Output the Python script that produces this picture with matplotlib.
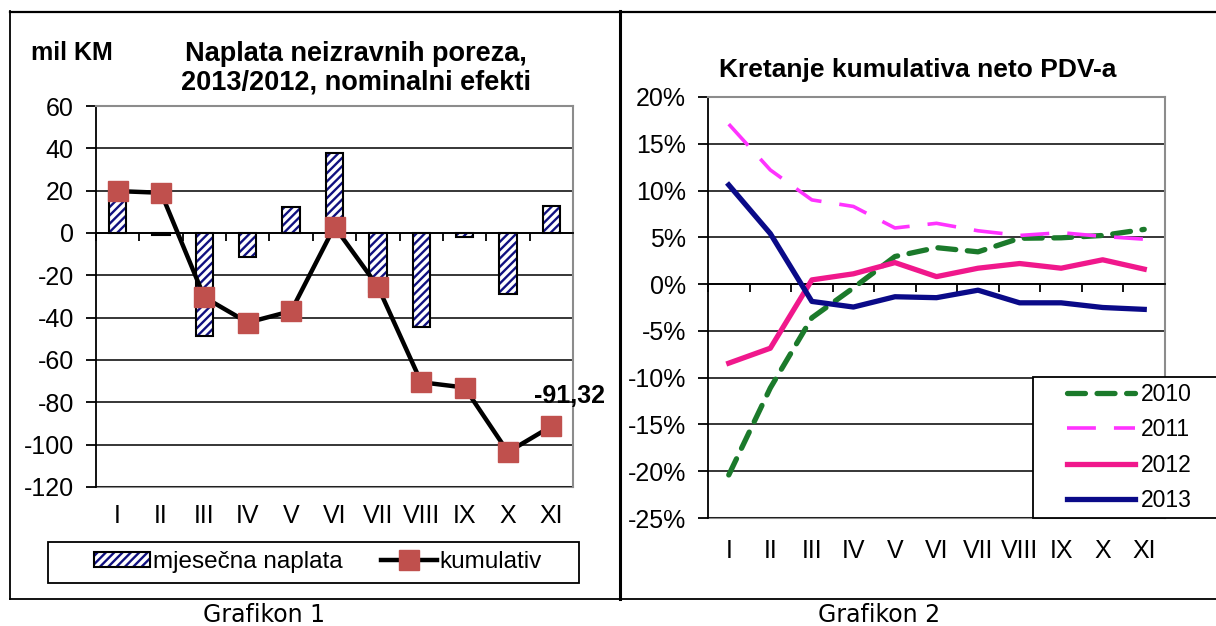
import numpy as np
import matplotlib
matplotlib.use('Agg')
import matplotlib.pyplot as plt
from matplotlib.patches import Patch, Rectangle
from matplotlib.lines import Line2D

plt.rcParams['font.family'] = ['Liberation Sans', 'DejaVu Sans']
plt.rcParams['axes.unicode_minus'] = False
plt.rcParams['hatch.linewidth'] = 1.7

# --- data ---
months = ['I', 'II', 'III', 'IV', 'V', 'VI', 'VII', 'VIII', 'IX', 'X', 'XI']

# Grafikon 1: mil KM
monthly = [20, -0.8, -48.5, -11.5, 12.2, 38, -28, -44.6, -2, -29, 12.7]
cumulative = [19.8, 19.0, -30.4, -42.3, -36.9, 3, -25.3, -70.5, -73, -103.5, -91.32]

# Grafikon 2: kumulativ neto PDV-a, %
vat_2010 = [-20.4, -11.1, -3.6, -0.4, 2.95, 3.9, 3.45, 4.9, 4.95, 5.2, 5.85]
vat_2011 = [17.1, 12.2, 9.0, 8.3, 6.0, 6.5, 5.7, 5.2, 5.5, 5.1, 4.8]
vat_2012 = [-8.45, -6.85, 0.45, 1.1, 2.3, 0.8, 1.7, 2.2, 1.7, 2.6, 1.6]
vat_2013 = [10.6, 5.4, -1.85, -2.45, -1.35, -1.45, -0.65, -2.0, -2.0, -2.5, -2.7]

W, H = 1216, 626
fig = plt.figure(figsize=(W / 100, H / 100), dpi=100)


def fx(px):
    return px / W


def fy(py):
    return 1 - py / H


def frame_axes(ax, xlabel_pad):
    # plot area border gray, left axis black, category axis at zero
    for s in ['top', 'right']:
        ax.spines[s].set_color('#8c8c8c')
        ax.spines[s].set_linewidth(1.5)
    ax.spines['left'].set_color('black')
    ax.spines['left'].set_linewidth(1.3)
    ax.spines['bottom'].set_position(('data', 0))
    ax.spines['bottom'].set_color('black')
    ax.spines['bottom'].set_linewidth(1.3)
    ax.set_xlim(-0.5, len(months) - 0.5)
    ax.set_xticks(np.arange(-0.5, len(months)), [''] * (len(months) + 1))
    ax.tick_params(axis='x', direction='out', length=6, width=1.3)
    ax.tick_params(axis='y', direction='out', length=7, width=1.3, pad=9,
                   labelsize=18)
    sec = ax.secondary_xaxis('bottom')
    sec.set_xticks(np.arange(len(months)), months)
    sec.tick_params(length=0, pad=xlabel_pad, labelsize=18)
    sec.spines['bottom'].set_color('#8c8c8c')
    sec.spines['bottom'].set_linewidth(1.5)
    ax.yaxis.grid(True, color='black', linewidth=1.1)
    ax.set_axisbelow(True)


def legend_box(x0, y0, x1, y1):
    # white box in figure pixels, drawn under a frameless figure legend
    fig.add_artist(Rectangle((fx(x0), fy(y1)), fx(x1) - fx(x0),
                             fy(y0) - fy(y1), transform=fig.transFigure,
                             facecolor='white', edgecolor='black',
                             linewidth=1.3, zorder=3))


# --- Grafikon 1 ---
ax1 = fig.add_axes([fx(96), fy(487), fx(573) - fx(96), fy(106) - fy(487)])
x = np.arange(len(months))
ax1.bar(x, monthly, width=0.4, color='white', edgecolor='#101080',
        hatch='////', linewidth=0, zorder=2)
ax1.bar(x, monthly, width=0.4, fill=False, edgecolor='black',
        linewidth=1.5, zorder=2)
ax1.plot(x, cumulative, color='black', linewidth=3.2, marker='s',
         markersize=15, markerfacecolor='#c0504d', markeredgecolor='#c0504d',
         zorder=3)
ax1.set_ylim(-120, 60)
ax1.set_yticks(np.arange(-120, 61, 20))
frame_axes(ax1, 12)
ax1.annotate(f"{cumulative[-1]:.2f}".replace('.', ','),
             xy=(x[-1], cumulative[-1]), xytext=(13, 22),
             textcoords='offset points', ha='center', va='center',
             fontsize=18, fontweight='bold', annotation_clip=False)

fig.text(fx(72), fy(53), 'mil KM', ha='center', va='center',
         fontsize=18, fontweight='bold')
fig.text(fx(356), fy(54), 'Naplata neizravnih poreza,', ha='center',
         va='center', fontsize=19.5, fontweight='bold')
fig.text(fx(356), fy(83), '2013/2012, nominalni efekti', ha='center',
         va='center', fontsize=19.5, fontweight='bold')

bar_handle = (Patch(facecolor='white', edgecolor='#101080', hatch='////',
                    linewidth=0),
              Patch(fill=False, edgecolor='black', linewidth=1.5))
line_handle = Line2D([], [], color='black', linewidth=3.2, marker='s',
                     markersize=15, markerfacecolor='#c0504d',
                     markeredgecolor='#c0504d')
legend_box(48, 542, 579, 583)
fig.legend([bar_handle, line_handle], ['mjesečna naplata', 'kumulativ'],
           loc='center', bbox_to_anchor=(fx(318), fy(562)), ncol=2,
           fontsize=17.5, frameon=False, handlelength=2.3,
           handletextpad=0.1, columnspacing=1.6, borderpad=0.2,
           handleheight=0.6, borderaxespad=0)

# --- Grafikon 2 ---
ax2 = fig.add_axes([fx(708), fy(518), fx(1165) - fx(708), fy(97) - fy(518)])
ax2.plot(x, vat_2010, color='#1b7a2b', linewidth=3.8, dashes=(3.4, 2.2),
         dash_capstyle='round', label='2010', zorder=3)
ax2.plot(x, vat_2011, color='#ff33ff', linewidth=2.6, dashes=(8, 5),
         label='2011', zorder=3)
ax2.plot(x, vat_2012, color='#f0188c', linewidth=3.8, label='2012', zorder=3)
ax2.plot(x, vat_2013, color='#0a0a88', linewidth=3.8, label='2013', zorder=3)
ax2.set_ylim(-25, 20)
ax2.set_yticks(np.arange(-25, 21, 5))
ax2.set_yticklabels([f'{v}%' for v in range(-25, 21, 5)])
frame_axes(ax2, 15)

fig.text(fx(918), fy(70), 'Kretanje kumulativa neto PDV-a', ha='center',
         va='center', fontsize=19, fontweight='bold')

legend_box(1033, 377, 1240, 518)
h2, l2 = ax2.get_legend_handles_labels()
fig.legend(h2, l2, loc='upper left', bbox_to_anchor=(fx(1062), fy(378)),
           fontsize=16.5, frameon=False, handlelength=3.0,
           handletextpad=0.25, labelspacing=0.55, borderpad=0.2,
           borderaxespad=0)

# --- outer table frame and captions ---
frame = dict(transform=fig.transFigure, color='black', zorder=4)
fig.add_artist(Line2D([fx(10), fx(10)], [fy(11), fy(599)], linewidth=1.3, **frame))
fig.add_artist(Line2D([fx(10), fx(1216)], [fy(11.5), fy(11.5)], linewidth=1.6, **frame))
fig.add_artist(Line2D([fx(10), fx(1216)], [fy(599), fy(599)], linewidth=1.3, **frame))
fig.add_artist(Line2D([fx(619.5), fx(619.5)], [fy(11), fy(599)], linewidth=2.2, **frame))

fig.text(fx(264), fy(615), 'Grafikon 1', ha='center', va='center',
         fontsize=17, family='DejaVu Sans')
fig.text(fx(879), fy(615), 'Grafikon 2', ha='center', va='center',
         fontsize=17, family='DejaVu Sans')

fig.savefig('out.png', dpi=100)
